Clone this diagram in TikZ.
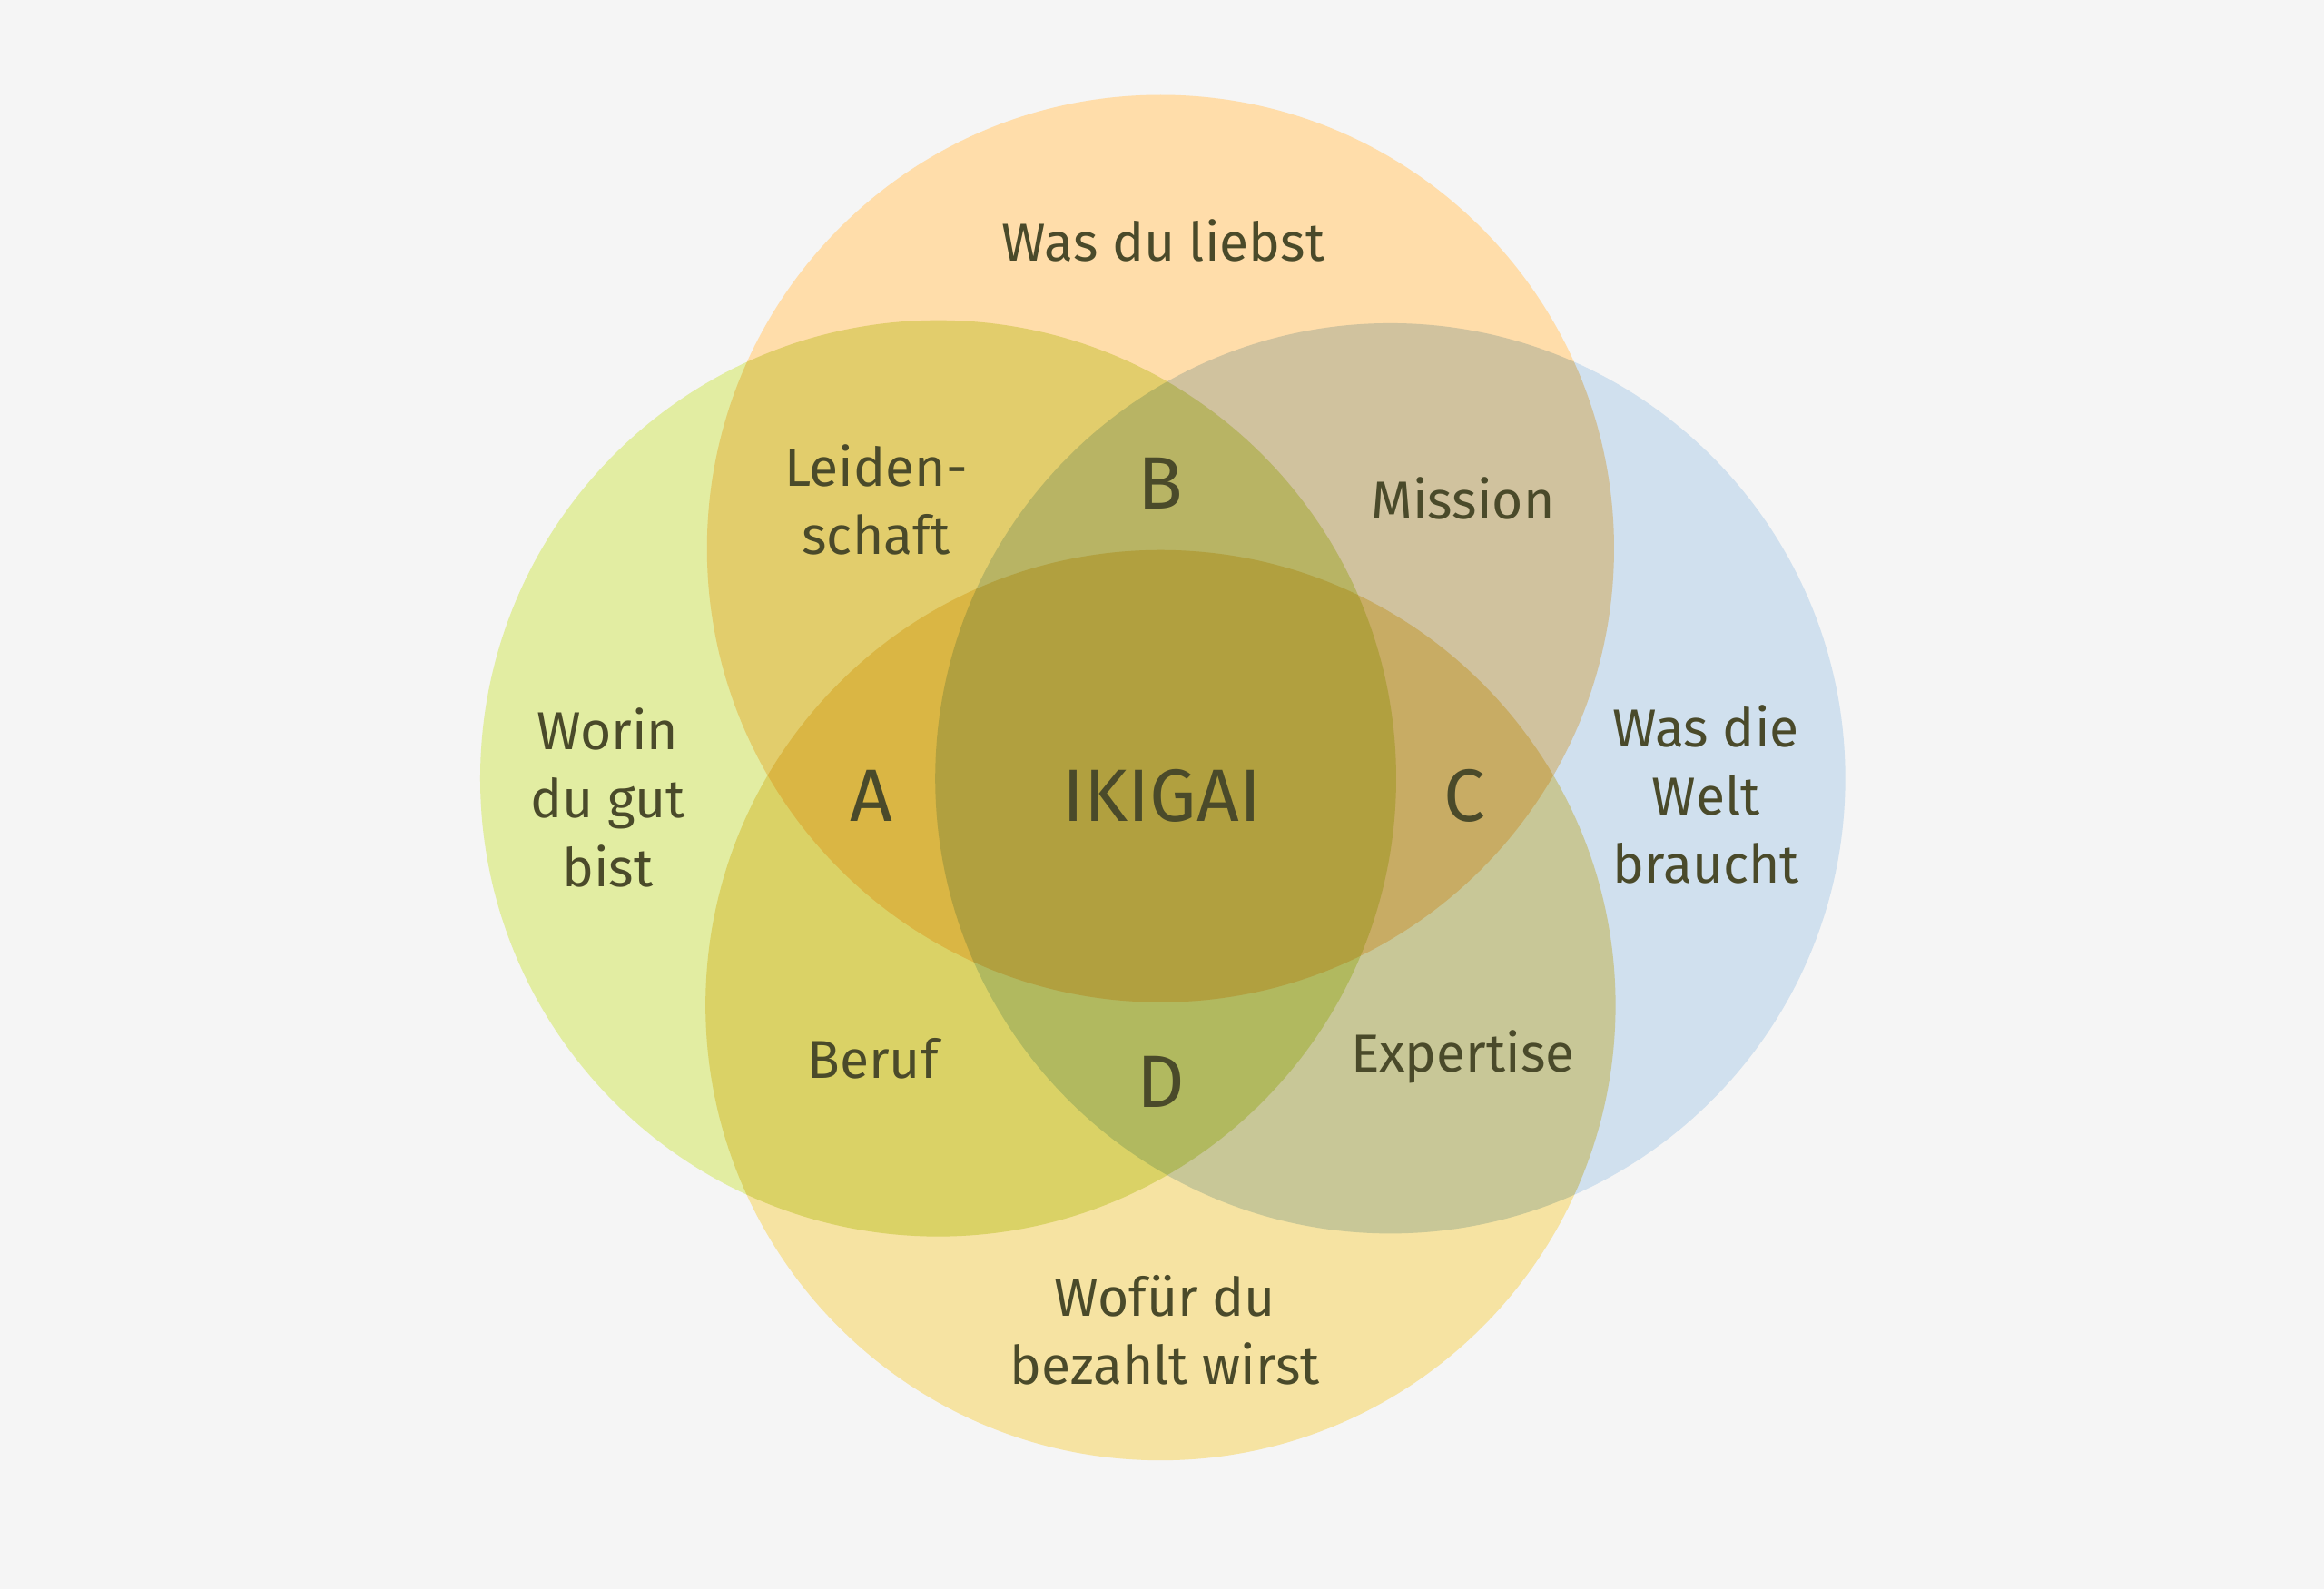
\documentclass[tikz,border=0pt]{standalone}
\usepackage{fontspec}
\setmainfont{Fira Sans}
\definecolor{bg}{HTML}{F5F5F5}
\definecolor{ctop}{HTML}{FFDDAA}
\definecolor{cleft}{HTML}{E2EDA2}
\definecolor{cright}{HTML}{D0E0EE}
\definecolor{cbot}{HTML}{F6E3A2}
\definecolor{txt}{HTML}{4A4A2A}
\begin{document}
\begin{tikzpicture}[x=1pt,y=-1pt,
  lbl/.style={text=txt,font=\fontsize{36}{46}\selectfont,align=center},
  big/.style={text=txt,font=\fontsize{50}{60}\selectfont}]
\fill[bg] (0,0) rectangle (1568,1072);
\useasboundingbox (0,0) rectangle (1568,1072);
\begin{scope}[blend group=multiply]
\fill[ctop] (783,370) circle (306);
\fill[cleft] (633,525) circle (309);
\fill[cright] (938,525) circle (307);
\fill[cbot] (783,678) circle (307);
\end{scope}
\node[lbl] (love) at (785,162) {Was du liebst};
\node[lbl] (good) at (410,538) {Worin\\du gut\\bist};
\node[lbl] (world) at (1151,536) {Was die\\Welt\\braucht};
\node[lbl] (paid) at (786,897) {Wofür du\\bezahlt wirst};
\node[lbl] (leid) at (591,337) {Leiden-\\schaft};
\node[lbl] (miss) at (987,336) {Mission};
\node[lbl] (beruf) at (589,714) {Beruf};
\node[lbl] (exp) at (987,713) {Expertise};
\node[big] (B) at (783,326) {B};
\node[big] (A) at (588,537) {A};
\node[big] (C) at (988,537) {C};
\node[big] (D) at (783,730) {D};
\node[big] (ik) at (784,537) {IKIGAI};
\end{tikzpicture}
\end{document}
